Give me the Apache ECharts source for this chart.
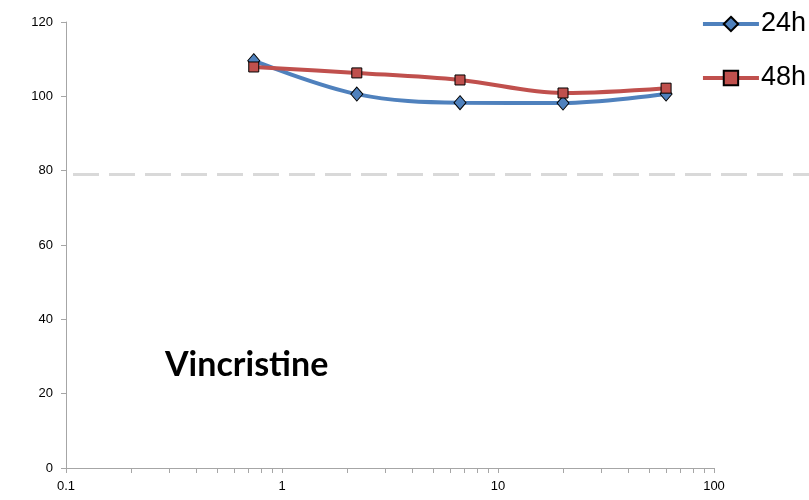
<!DOCTYPE html>
<html>
<head>
<meta charset="utf-8">
<script src="https://cdn.jsdelivr.net/npm/echarts@6/dist/echarts.min.js"></script>
<style>html,body{margin:0;padding:0;background:#fff}#c{width:809px;height:500px}</style>
</head>
<body>
<div id="c"></div>
<script>
const concentrations = [0.74, 2.22, 6.67, 20, 60];
const series24h = [109.6, 100.6, 98.3, 98.2, 100.6];
const series48h = [107.9, 106.3, 104.4, 100.9, 102.2];
const thresholdValue = 79;
const xMajorTicks = [0.1, 1, 10, 100];
const xMinorTicks = [0.1,0.2,0.3,0.4,0.5,0.6,0.7,0.8,0.9,1,2,3,4,5,6,7,8,9,10,20,30,40,50,60,70,80,90,100];
const yTicks = [0, 20, 40, 60, 80, 100, 120];
const chartLabel = 'Vincristine';

const chart = echarts.init(document.getElementById('c'), null, {renderer: 'canvas'});
const labelFont = 'Liberation Sans, Arial, sans-serif';
chart.setOption({
  animation: false,
  backgroundColor: '#fff',
  grid: [
    {left: 66, right: 95, top: 22, bottom: 32},
    {left: 66, right: 0, top: 22, bottom: 32}
  ],
  title: {
    text: chartLabel, left: 160, top: 343,
    textStyle: {fontFamily: 'Lato', fontWeight: 'bold', fontSize: 34, color: '#000'}
  },
  legend: {
    orient: 'vertical', right: 3, top: 9, itemGap: 24, padding: 0,
    itemWidth: 56, itemHeight: 18,
    lineStyle: {width: 4},
    textStyle: {fontFamily: labelFont, fontSize: 27, lineHeight: 30, color: '#000', padding: [0,0,0,-3]},
    data: ['24h', '48h']
  },
  xAxis: [
    {
      type: 'log', logBase: 10, min: 0.1, max: 100, gridIndex: 0,
      axisLine: {lineStyle: {color: '#a6a6a6', width: 1}},
      axisTick: {show: true, inside: false, length: 5, lineStyle: {color: '#a6a6a6'}, customValues: xMinorTicks},
      axisLabel: {customValues: xMajorTicks, fontFamily: labelFont, fontSize: 13, color: '#000', margin: 12,
        formatter: v => String(v)},
      splitLine: {show: false}
    },
    {type: 'value', min: 0, max: 1, gridIndex: 1, show: false}
  ],
  yAxis: [
    {
      type: 'value', min: 0, max: 120, interval: 20, gridIndex: 0,
      axisLine: {show: true, lineStyle: {color: '#a6a6a6', width: 1}},
      axisTick: {show: true, length: 5, lineStyle: {color: '#a6a6a6'}},
      axisLabel: {fontFamily: labelFont, fontSize: 13, color: '#000', margin: 13},
      splitLine: {show: false}
    },
    {type: 'value', min: 0, max: 120, gridIndex: 1, show: false}
  ],
  series: [
    {
      name: 'threshold', type: 'line', xAxisIndex: 1, yAxisIndex: 1,
      data: [[0.0094, thresholdValue], [1, thresholdValue]],
      symbol: 'none', silent: true,
      lineStyle: {color: '#d9d9d9', width: 3, type: [26, 10]}, z: 1
    },
    {
      name: '24h', type: 'line', xAxisIndex: 0, yAxisIndex: 0,
      data: concentrations.map((c, i) => [c, series24h[i]]),
      smooth: 0.35, symbol: 'diamond', symbolSize: [12, 14],
      lineStyle: {color: '#4f81bd', width: 4},
      itemStyle: {color: '#4f81bd', borderColor: '#000', borderWidth: 1}, z: 3
    },
    {
      name: '48h', type: 'line', xAxisIndex: 0, yAxisIndex: 0,
      data: concentrations.map((c, i) => [c, series48h[i]]),
      smooth: 0.35, symbol: 'rect', symbolSize: 10,
      lineStyle: {color: '#c0504d', width: 4},
      itemStyle: {color: '#c0504d', borderColor: '#000', borderWidth: 1}, z: 4
    }
  ]
});
</script>
</body>
</html>
